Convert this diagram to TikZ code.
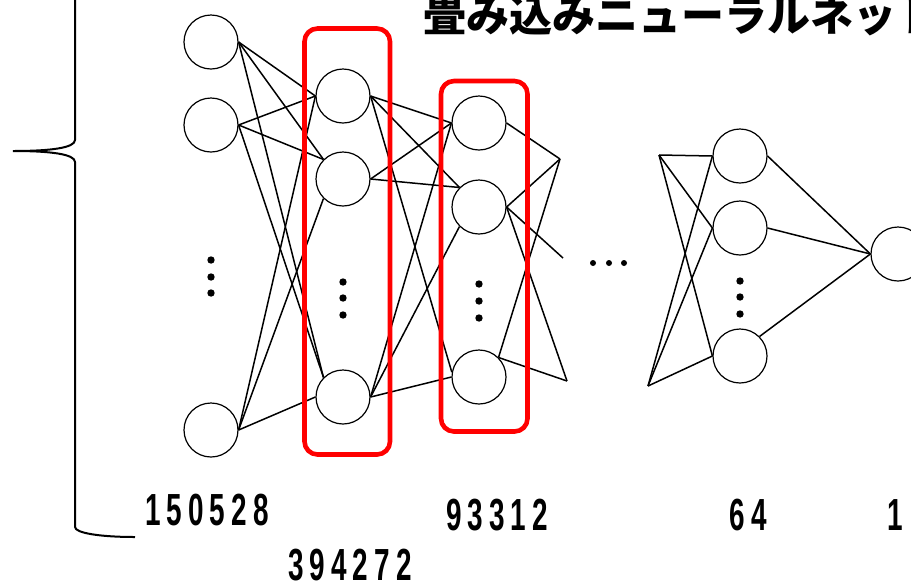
\documentclass[tikz,border=0pt]{standalone}
\usepackage{fontspec}
\newfontfamily\cjk{Noto Sans CJK JP}
\newfontfamily\numfont[FakeStretch=0.62]{Liberation Sans}
\newlength\spcgap
\setlength\spcgap{6pt}
\makeatletter
\newcommand\spc[1]{\spc@a#1\@nil}
\def\spc@a#1#2\@nil{#1\ifx\relax#2\relax\else\kern\spcgap\spc@a#2\@nil\fi}
\makeatother
\tikzset{
  neuron/.style={circle, draw=black, line width=1.2pt, fill=white, minimum size=54pt, inner sep=0pt},
  edge/.style={line width=1.5pt, black},
  redbox/.style={draw=red, line width=4.6pt, rounded corners=13pt},
  dotmark/.style={circle, fill=black, inner sep=0pt, minimum size=7.4pt},
  smalldot/.style={circle, fill=black, inner sep=0pt, minimum size=6pt},
  numlabel/.style={anchor=base, inner sep=0pt, font=\numfont\bfseries\fontsize{45}{50}\selectfont},
  brace/.style={line width=2pt, black}
}
\begin{document}
\begin{tikzpicture}[x=1pt, y=-1pt]
\useasboundingbox (0,0) rectangle (911,582);
\clip (0,0) rectangle (911,582);

% title
\node[anchor=base west, inner sep=0pt, font=\cjk\bfseries\fontsize{43}{50}\selectfont] (title) at (423,31) {畳み込みニューラルネット};

% brace
\draw[brace] (75,0) -- (75,140) .. controls (75,148) and (50,151) .. (13,151)
  .. controls (50,151) and (75,154) .. (75,162) -- (75,527)
  .. controls (75,533) and (100,537) .. (135,537);

% layer 1
\node[neuron] (a1) at (211,42) {};
\node[neuron] (a2) at (211,125) {};
\node[neuron] (a4) at (211,430) {};
% layer 2
\node[neuron] (b1) at (343,96) {};
\node[neuron] (b2) at (343,179) {};
\node[neuron] (b4) at (343,397) {};
% layer 3
\node[neuron] (c1) at (479,123) {};
\node[neuron] (c2) at (479,207) {};
\node[neuron] (c4) at (479,377) {};
% layer 4
\node[neuron] (d1) at (740,156) {};
\node[neuron] (d2) at (740,228) {};
\node[neuron] (d4) at (740,356) {};
% output
\node[neuron] (e) at (898,254) {};

% free ends
\coordinate (p1) at (560,159);
\coordinate (p3) at (563,258);
\coordinate (p2) at (567,381);
\coordinate (q1) at (659,155);
\coordinate (q2) at (648,386);

% vertical dots
\foreach \x/\ya/\yb/\yc in {211/260/277/293, 343/282/298/315, 479/284/301/318, 740/281/297/314}{
  \node[dotmark] at (\x,\ya) {};
  \node[dotmark] at (\x,\yb) {};
  \node[dotmark] at (\x,\yc) {};
}
% horizontal dots
\node[smalldot] (h1) at (593,263) {};
\node[smalldot] (h2) at (609,263) {};
\node[smalldot] (h3) at (624,263) {};

% layer 1 -> 2
\draw[edge] (a1.east) -- (b1.west);
\draw[edge] (a1.east) -- (b2.135);
\draw[edge] (a1.east) -- (b4.135);
\draw[edge] (a2.east) -- (b1.west);
\draw[edge] (a2.east) -- (b2.135);
\draw[edge] (a2.east) -- (b4.135);
\draw[edge] (a4.east) -- (b1.west);
\draw[edge] (a4.east) -- (b2.225);
\draw[edge] (a4.east) -- (b4.west);

% layer 2 -> 3
\draw[edge] (b1.east) -- (c1.west);
\draw[edge] (b1.east) -- (c2.135);
\draw[edge] (b1.east) -- (c4.170);
\draw[edge] (b2.east) -- (c1.west);
\draw[edge] (b2.east) -- (c2.135);
\draw[edge] (b4.east) -- (c1.west);
\draw[edge] (b4.east) -- (c2.225);
\draw[edge] (b4.east) -- (c4.west);

% layer 3 out
\draw[edge] (c1.east) -- (p1);
\draw[edge] (c2.east) -- (p1);
\draw[edge] (c4.45) -- (p1);
\draw[edge] (c2.east) -- (p3);
\draw[edge] (c2.east) -- (p2);
\draw[edge] (c4.45) -- (p2);

% layer 4 in
\draw[edge] (q1) -- (d1.west);
\draw[edge] (q1) -- (d2.west);
\draw[edge] (q1) -- (d4.west);
\draw[edge] (q2) -- (d1.west);
\draw[edge] (q2) -- (d2.west);
\draw[edge] (q2) -- (d4.west);

% layer 4 -> output
\draw[edge] (d1.east) -- (e.west);
\draw[edge] (d2.east) -- (e.west);
\draw[edge] (d4.45) -- (e.west);

% red boxes
\draw[redbox] (304.5,28.5) rectangle (390,454.5);
\draw[redbox] (441,81) rectangle (527.5,431.5);

% labels
\node[numlabel] (n1) at (207,525) {\spc{150528}};
\node[numlabel] (n2) at (350,580) {\spc{394272}};
\node[numlabel] (n3) at (497,530) {\spc{93312}};
\node[numlabel] (n4) at (748,530) {\spc{64}};
\node[numlabel] (n5) at (895,530) {\spc{1}};
\end{tikzpicture}
\end{document}
